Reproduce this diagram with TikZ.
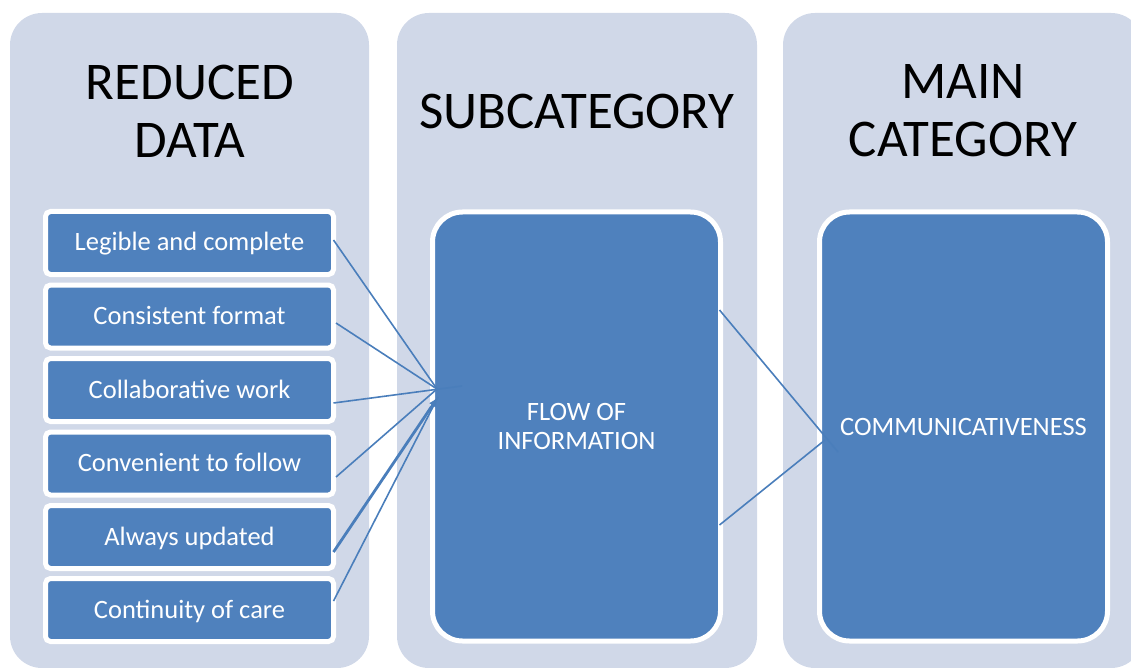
\documentclass[tikz,border=0pt]{standalone}
\usepackage{fontspec}
\setmainfont{Carlito}
\usepackage{tikz}
\usepackage{xcolor}
\usetikzlibrary{arrows.meta}

\definecolor{colbg}{HTML}{D0D8E8}
\definecolor{boxblue}{HTML}{4F81BD}
\definecolor{linkblue}{HTML}{4A7EBB}

\begin{document}
\begin{tikzpicture}[x=1pt,y=-1pt,
  title/.style={align=center,font=\fontsize{53}{58}\selectfont},
  rowbox/.style={fill=boxblue,draw=white,line width=5pt,rounded corners=5pt,
    minimum width=288pt,minimum height=63pt,text=white,
    font=\fontsize{26.5}{30}\selectfont,text height=16pt,text depth=0pt},
  bigbox/.style={fill=boxblue,draw=white,line width=5pt,rounded corners=30pt,
    minimum width=288pt,minimum height=429pt,text=white,align=center,
    font=\fontsize{26.5}{29}\selectfont},
  link/.style={draw=linkblue,line width=1.6pt}]
\useasboundingbox (0,0) rectangle (1131,668);
\fill[colbg,rounded corners=32pt] (10,13) rectangle (369,668);
\fill[colbg,rounded corners=32pt] (397,13) rectangle (757,668);
\fill[colbg,rounded corners=32pt] (783,13) rectangle (1143,668);
\node[title] (tred) at (190,111) {REDUCED\\DATA};
\node[title] (tsub) at (577,111) {SUBCATEGORY};
\node[title] (tmain) at (963,111) {MAIN\\CATEGORY};
\node[rowbox] (r1) at (189.5,243) {Legible and complete};
\node[rowbox] (r2) at (189.5,316.5) {Consistent format};
\node[rowbox] (r3) at (189.5,390) {Collaborative work};
\node[rowbox] (r4) at (189.5,463.5) {Convenient to follow};
\node[rowbox] (r5) at (189.5,537) {Always updated};
\node[rowbox] (r6) at (189.5,610) {Continuity of care};
\node[bigbox] (flow) at (576.5,426.5) {FLOW OF\\INFORMATION};
\node[bigbox] (main) at (963.5,426.5) {COMMUNICATIVENESS};
\coordinate (hub) at (437,389);
\coordinate (hubend) at (462,386);
\coordinate (hublow) at (438,397);
\coordinate (mainin) at (838,452);
\coordinate (mainup) at (825,440);
\draw[link] ([xshift=-2.5pt,yshift=3pt]r1.east) -- (hub);
\draw[link] ([yshift=-6.5pt]r2.east) -- (hub);
\draw[link] ([xshift=-2.5pt,yshift=-13pt]r3.east) -- (hubend);
\draw[link] ([yshift=-13.5pt]r4.east) -- (hub);
\draw[link,line width=2.8pt,-{Latex[length=10pt,width=8pt]}] ([xshift=-2.5pt,yshift=-15pt]r5.east) -- (hublow);
\draw[link] ([xshift=-2.5pt,yshift=9pt]r6.east) -- (hublow);
\draw[link] ([xshift=-3.5pt,yshift=116.5pt]flow.east) -- (mainin);
\draw[link] ([xshift=-3.5pt,yshift=-98.5pt]flow.east) -- (mainup);
\end{tikzpicture}
\end{document}
